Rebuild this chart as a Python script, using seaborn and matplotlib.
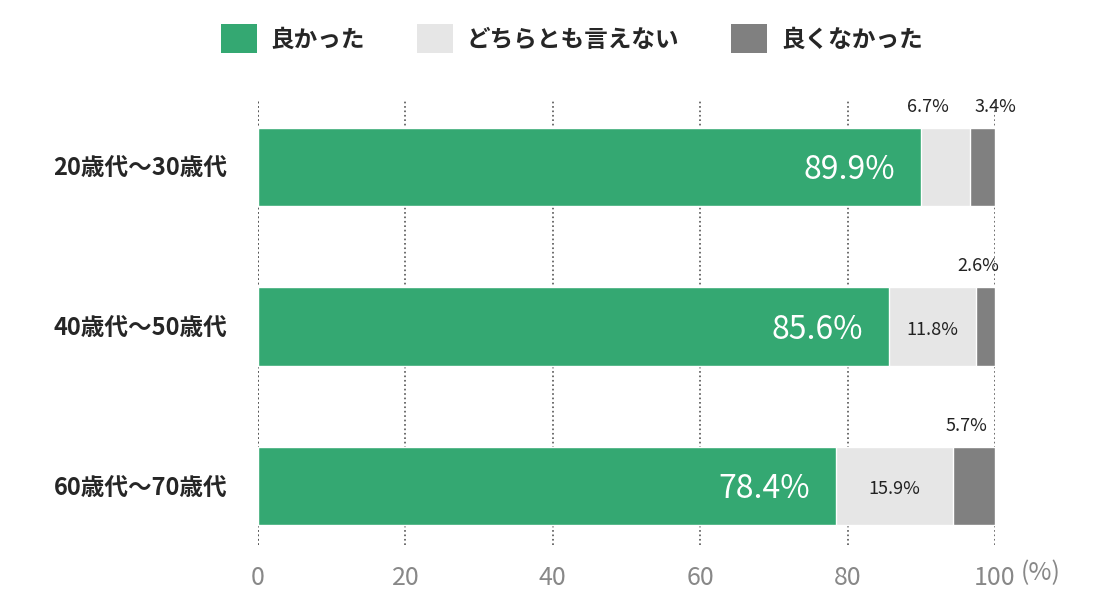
import pandas as pd
import seaborn as sns
import matplotlib.pyplot as plt
import matplotlib.transforms as mtrans
from matplotlib.patches import Patch

groups = ['20歳代〜30歳代', '40歳代〜50歳代', '60歳代〜70歳代']
good = [89.9, 85.6, 78.4]
neutral = [6.7, 11.8, 15.9]
bad = [3.4, 2.6, 5.7]
series_names = ['良かった', 'どちらとも言えない', '良くなかった']
colors = ['#34a872', '#e6e6e6', '#808080']

sns.set_style('white')
plt.rcParams['font.family'] = ['Noto Sans CJK JP', 'DejaVu Sans']

df = pd.DataFrame({'group': groups, 'good': good, 'neutral': neutral, 'bad': bad})
df['c1'] = df['good']
df['c2'] = df['good'] + df['neutral']
df['c3'] = df['c2'] + df['bad']

fig = plt.figure(figsize=(11, 6.05), dpi=100)
ax = fig.add_axes([0.2345, 0.099, 0.67, 0.736])

# stacked bars: draw cumulative totals from back to front
for col, c in zip(['c3', 'c2', 'c1'], colors[::-1]):
    sns.barplot(data=df, x=col, y='group', orient='h', color=c, width=0.49,
                saturation=1, ax=ax, zorder=2)

ax.set_xlim(0, 100)
ax.set_ylim(2.37, -0.42)
ax.set_xlabel('')
ax.set_ylabel('')
ax.set_xticks([0, 20, 40, 60, 80, 100])
ax.set_xticklabels(['0', '20', '40', '60', '80', '100'], fontsize=18, color='#888888')
ax.tick_params(axis='x', length=0, pad=14)
ax.tick_params(axis='y', length=0, pad=22)
for lab in ax.get_yticklabels():
    lab.set_fontsize(17)
    lab.set_fontweight('bold')
ax.xaxis.grid(True, linestyle=':', color='#555555', linewidth=1.2, zorder=0)
ax.set_axisbelow(True)
for s in ax.spines.values():
    s.set_visible(False)
ax.axvline(0, linestyle=':', color='#555555', linewidth=1.2, zorder=0)

trans = mtrans.blended_transform_factory(ax.transData, ax.transAxes)
ax.text(103.5, -0.033, '(%)', transform=trans, ha='left', va='top',
        fontsize=18, color='#888888')

for i in range(len(groups)):
    ax.text(good[i] - 3.5, i + 0.02, f'{good[i]}%', ha='right', va='center',
            color='white', fontsize=23, zorder=3)
    if neutral[i] > 10:
        ax.text(good[i] + neutral[i] / 2, i + 0.02, f'{neutral[i]}%', ha='center',
                va='center', fontsize=13, color='#222222', zorder=3)
        bx = df['c2'][i] + bad[i] / 2 - 1
    else:
        ax.text(good[i] + 1, i - 0.32, f'{neutral[i]}%', ha='center', va='bottom',
                fontsize=13, color='#222222')
        bx = 100
    ax.text(bx, i - 0.32, f'{bad[i]}%', ha='center', va='bottom',
            fontsize=13, color='#222222')

handles = [Patch(facecolor=c, edgecolor='none') for c in colors]
leg = fig.legend(handles, series_names, loc='upper center', ncol=3,
                 bbox_to_anchor=(0.52, 0.995), frameon=False, fontsize=17,
                 handlelength=1.5, handleheight=1.5, columnspacing=2.2,
                 handletextpad=0.6)
for t in leg.get_texts():
    t.set_fontweight('bold')

fig.savefig('out.png', dpi=100)
